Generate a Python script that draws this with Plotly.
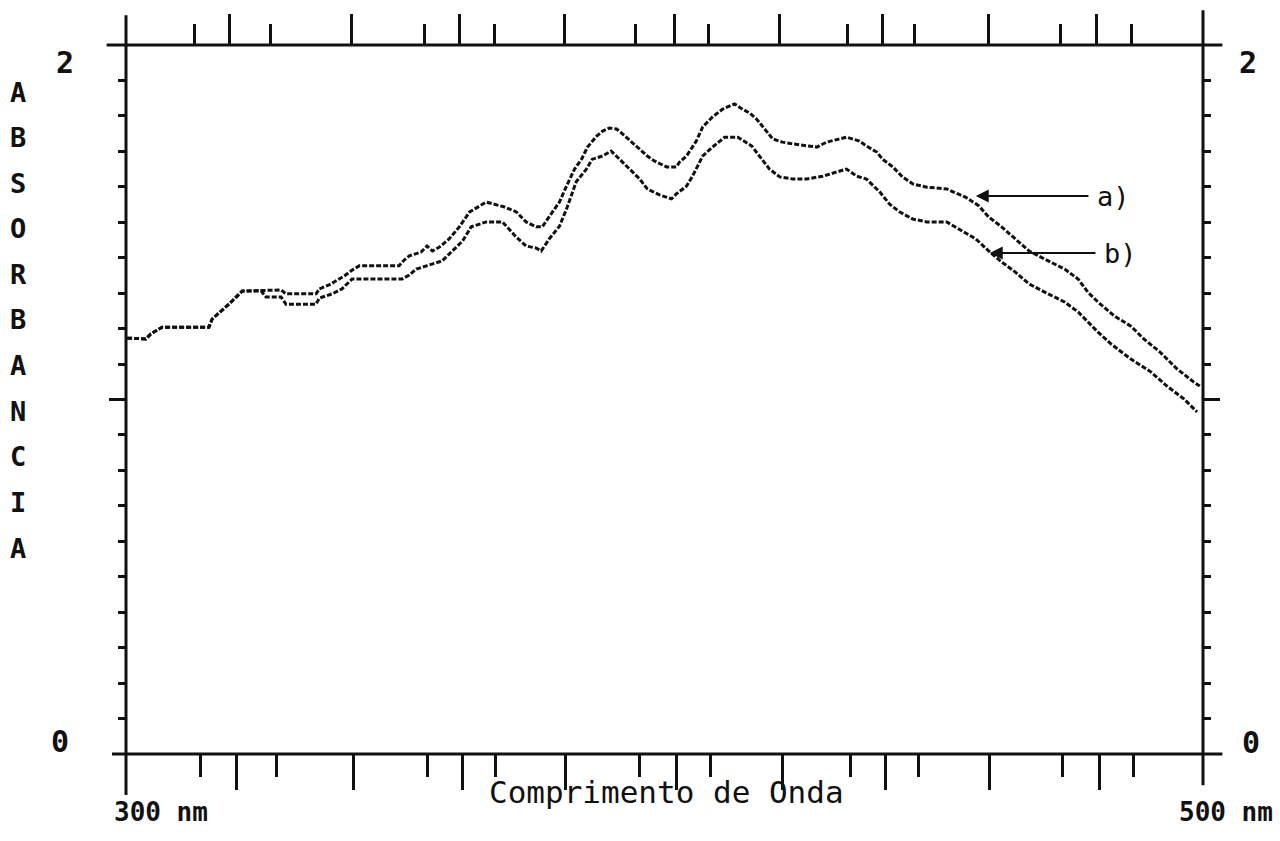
import plotly.graph_objects as go

# ---------------- data ----------------
wl_a = [300.2, 303.7, 304.6, 306.7, 315.4, 316.0, 319.1, 321.6, 328.8, 329.7, 335.3, 335.9,
        337.7, 340.5, 342.0, 343.3, 350.7, 351.7, 352.6, 354.8, 355.9, 356.9, 358.2, 360.0,
        361.9, 363.8, 366.9, 370.3, 372.5, 374.3, 376.2, 377.3, 379.2, 380.5, 381.8, 383.3,
        384.6, 385.7, 387.4, 388.5, 389.8, 391.1, 392.0, 393.9, 395.0, 396.8, 398.1, 400.4,
        402.2, 402.8, 404.1, 405.2, 405.9, 407.1, 408.9, 410.8, 413.0, 414.5, 415.8, 417.1,
        418.6, 420.1, 421.9, 423.8, 428.3, 430.1, 433.8, 436.2, 437.5, 439.4, 440.5, 442.4,
        444.2, 446.1, 448.7, 452.4, 454.5, 455.9, 458.4, 460.2, 462.6, 465.1, 467.7, 470.6,
        474.3, 476.8, 478.6, 480.5, 483.5, 486.6, 489.0, 492.0, 495.2, 498.3, 499.4]
abs_a = [1.173, 1.171, 1.185, 1.204, 1.204, 1.227, 1.269, 1.306, 1.309, 1.298, 1.298, 1.312,
         1.323, 1.348, 1.365, 1.377, 1.377, 1.394, 1.405, 1.416, 1.433, 1.419, 1.430, 1.453,
         1.487, 1.529, 1.557, 1.543, 1.529, 1.501, 1.487, 1.487, 1.529, 1.557, 1.602, 1.650,
         1.678, 1.712, 1.743, 1.757, 1.766, 1.763, 1.752, 1.726, 1.712, 1.687, 1.673, 1.656,
         1.656, 1.670, 1.687, 1.715, 1.729, 1.769, 1.797, 1.819, 1.834, 1.819, 1.808, 1.791,
         1.763, 1.735, 1.726, 1.721, 1.712, 1.726, 1.740, 1.729, 1.715, 1.698, 1.678, 1.656,
         1.628, 1.608, 1.599, 1.594, 1.580, 1.571, 1.546, 1.515, 1.487, 1.453, 1.419, 1.396,
         1.368, 1.340, 1.303, 1.275, 1.236, 1.207, 1.171, 1.134, 1.086, 1.049, 1.038]

wl_b = [300.2, 303.7, 304.6, 306.7, 315.4, 316.0, 319.1, 321.6, 325.1, 326.0, 328.8, 329.7,
        335.3, 335.9, 338.3, 340.1, 342.0, 351.3, 352.6, 353.9, 355.8, 358.7, 360.6, 362.5,
        364.1, 366.9, 369.9, 372.5, 374.3, 376.2, 377.1, 378.6, 380.5, 381.8, 383.6, 385.5,
        386.6, 388.5, 390.1, 391.6, 393.5, 395.4, 396.8, 399.1, 401.3, 402.2, 404.1, 405.2,
        407.1, 408.9, 411.2, 413.6, 416.2, 417.7, 419.5, 421.4, 423.8, 426.4, 429.4, 433.8,
        435.7, 437.5, 440.0, 441.8, 443.7, 446.1, 448.7, 452.4, 454.6, 457.8, 460.2, 462.6,
        465.1, 467.7, 470.6, 474.3, 476.8, 478.6, 480.5, 482.9, 486.6, 490.3, 493.3, 496.5,
        498.9]
abs_b = [1.173, 1.171, 1.185, 1.204, 1.204, 1.227, 1.269, 1.306, 1.306, 1.289, 1.289, 1.269,
         1.269, 1.286, 1.298, 1.312, 1.340, 1.340, 1.351, 1.368, 1.377, 1.391, 1.419, 1.447,
         1.487, 1.501, 1.501, 1.458, 1.433, 1.427, 1.419, 1.453, 1.489, 1.537, 1.614, 1.650,
         1.678, 1.687, 1.701, 1.678, 1.650, 1.622, 1.594, 1.577, 1.566, 1.580, 1.602, 1.630,
         1.687, 1.712, 1.740, 1.740, 1.715, 1.684, 1.650, 1.628, 1.622, 1.622, 1.630, 1.650,
         1.630, 1.622, 1.585, 1.551, 1.529, 1.509, 1.501, 1.501, 1.481, 1.453, 1.419, 1.388,
         1.360, 1.326, 1.303, 1.275, 1.247, 1.219, 1.190, 1.157, 1.114, 1.078, 1.038, 1.001,
         0.965]

# tick marks (nm) on the bottom and top wavelength scales
bottom_long = [320.6, 342.3, 362.4, 381.7, 402.3, 422.0, 441.0, 460.3, 480.7]
bottom_short = [313.9, 328.0, 355.9, 368.7, 395.4, 408.6, 434.6, 447.1, 474.0, 487.1]
top_long = [319.3, 341.8, 362.0, 381.5, 401.8, 421.3, 440.4, 460.1, 480.3]
top_short = [312.7, 326.9, 355.4, 368.5, 394.7, 408.1, 433.9, 446.5, 473.6, 486.8]
y_long = [1.0]
y_short = [0.1, 0.2, 0.3, 0.4, 0.5, 0.6, 0.7, 0.8, 0.9, 1.1, 1.2, 1.3, 1.4, 1.5, 1.6, 1.7, 1.8, 1.9]

x_range = [300, 500]
y_range = [0, 2]

# label annotations
arrow_a = dict(label="a)", head=(457.8, 1.574), tail=(479.0, 1.574), text_x=480.0)
arrow_b = dict(label="b)", head=(460.4, 1.413), tail=(480.3, 1.413), text_x=481.2)
y_letters = "ABSORBANCIA"
x_title = "Comprimento de Onda"
x_left_label = "300 nm"
x_right_label = "500 nm"

FONT = "DejaVu Sans Mono"
INK = "#111111"

fig = go.Figure()

line_style = dict(color=INK, width=3, dash="5px,2px")
fig.add_trace(go.Scatter(x=wl_a, y=abs_a, mode="lines", line=line_style,
                         showlegend=False, hoverinfo="skip"))
fig.add_trace(go.Scatter(x=wl_b, y=abs_b, mode="lines", line=line_style,
                         showlegend=False, hoverinfo="skip"))
# dummy trace to activate the top wavelength axis
fig.add_trace(go.Scatter(x=[x_range[0]], y=[y_range[0]], xaxis="x2", yaxis="y", mode="markers",
                         marker=dict(opacity=0), showlegend=False, hoverinfo="skip"))

fig.update_layout(
    width=1280, height=841,
    margin=dict(l=126, r=77, t=45, b=87, autoexpand=False),
    paper_bgcolor="white", plot_bgcolor="white",
    xaxis=dict(range=x_range, showgrid=False, zeroline=False, showline=False,
               showticklabels=False, tickmode="array", tickvals=bottom_long,
               ticks="outside", ticklen=35, tickwidth=2.5, tickcolor=INK,
               minor=dict(tickmode="array", tickvals=bottom_short, ticks="outside",
                          ticklen=22, tickwidth=2.5, tickcolor=INK, showgrid=False)),
    xaxis2=dict(range=x_range, overlaying="x", side="top", anchor="y", showgrid=False,
                zeroline=False, showline=False, showticklabels=False, tickmode="array",
                tickvals=top_long, ticks="outside", ticklen=30, tickwidth=2.5, tickcolor=INK,
                minor=dict(tickmode="array", tickvals=top_short, ticks="outside",
                           ticklen=20, tickwidth=2.5, tickcolor=INK, showgrid=False)),
    yaxis=dict(range=y_range, showgrid=False, zeroline=False, showline=False,
               showticklabels=False, tickmode="array", tickvals=y_long, mirror="ticks",
               ticks="outside", ticklen=16, tickwidth=2.5, tickcolor=INK,
               minor=dict(tickmode="array", tickvals=y_short, ticks="outside",
                          ticklen=7, tickwidth=2.5, tickcolor=INK, showgrid=False)),
)

# axis lines, extended past the corners like the plotter drawing
ax_line = dict(color=INK, width=3)
fig.add_shape(type="line", xref="paper", yref="paper", x0=-0.013, x1=1.018, y0=0, y1=0, line=ax_line)
fig.add_shape(type="line", xref="paper", yref="paper", x0=-0.018, x1=1.018, y0=1, y1=1, line=ax_line)
fig.add_shape(type="line", xref="paper", yref="paper", x0=0, x1=0, y0=-0.058, y1=1.042, line=ax_line)
fig.add_shape(type="line", xref="paper", yref="paper", x0=1, x1=1, y0=-0.044, y1=1.049, line=ax_line)

def txt(x, y, s, size, weight="normal"):
    fig.add_annotation(x=x, y=y, xref="paper", yref="paper", text=s, showarrow=False,
                       font=dict(family=FONT, size=size, color=INK, weight=weight),
                       xanchor="center", yanchor="middle")

txt(-0.057, 0.976, "2", 30, "bold")
txt(-0.061, 0.017, "0", 30, "bold")
txt(1.042, 0.976, "2", 30, "bold")
txt(1.045, 0.016, "0", 30, "bold")
txt(0.0325, -0.082, x_left_label, 26, "bold")
txt(1.021, -0.082, x_right_label, 26, "bold")
txt(0.502, -0.054, x_title, 31)

n = len(y_letters)
top_c, bot_c = 754 - 92, 754 - 548
for i, ch in enumerate(y_letters):
    yp = (top_c - i * (top_c - bot_c) / (n - 1)) / 709
    txt(-0.100, yp, ch, 27, "bold")

for arr in (arrow_a, arrow_b):
    fig.add_annotation(x=arr["head"][0], y=arr["head"][1], ax=arr["tail"][0], ay=arr["tail"][1],
                       xref="x", yref="y", axref="x", ayref="y", text="", showarrow=True,
                       arrowhead=2, arrowsize=1.3, arrowwidth=2, arrowcolor=INK)
    fig.add_annotation(x=arr["text_x"], y=arr["head"][1], xref="x", yref="y", text=arr["label"],
                       showarrow=False, xanchor="left", yanchor="middle",
                       font=dict(family=FONT, size=27, color=INK))

fig.write_html("out.html")
